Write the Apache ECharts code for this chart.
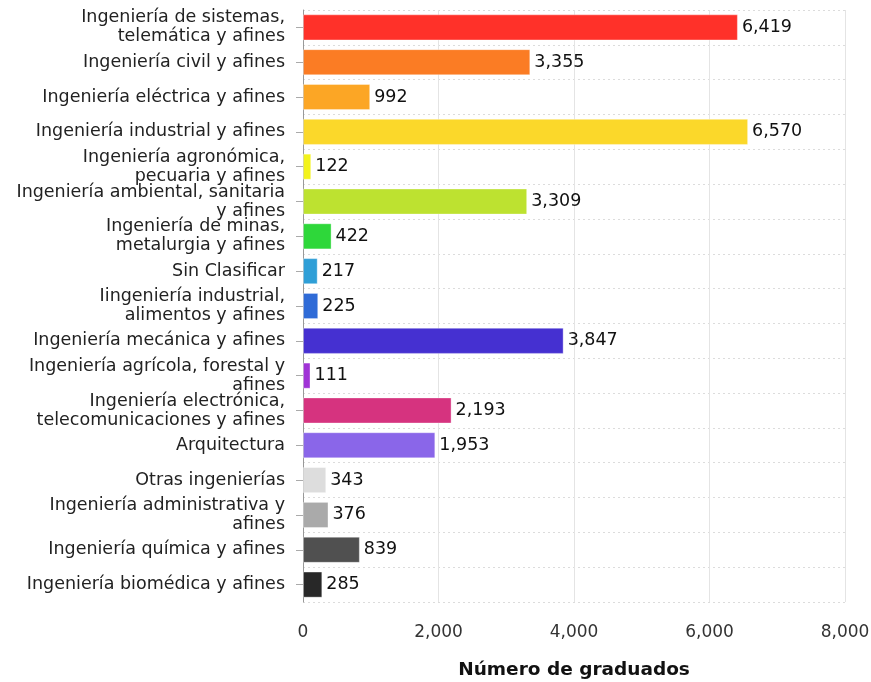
<!DOCTYPE html>
<html>
<head>
<meta charset="utf-8">
<script src="https://cdn.jsdelivr.net/npm/echarts@6/dist/echarts.min.js"></script>
<style>
html,body{margin:0;padding:0;background:#fff;}
#chart{width:871px;height:682px;}
</style>
</head>
<body>
<div id="chart"></div>
<script>
var categories = [
  "Ingeniería de sistemas,\ntelemática y afines",
  "Ingeniería civil y afines",
  "Ingeniería eléctrica y afines",
  "Ingeniería industrial y afines",
  "Ingeniería agronómica,\npecuaria y afines",
  "Ingeniería ambiental, sanitaria\ny afines",
  "Ingeniería de minas,\nmetalurgia y afines",
  "Sin Clasificar",
  "Iingeniería industrial,\nalimentos y afines",
  "Ingeniería mecánica y afines",
  "Ingeniería agrícola, forestal y\nafines",
  "Ingeniería electrónica,\ntelecomunicaciones y afines",
  "Arquitectura",
  "Otras ingenierías",
  "Ingeniería administrativa y\nafines",
  "Ingeniería química y afines",
  "Ingeniería biomédica y afines"
];
var values = [6419, 3355, 992, 6570, 122, 3309, 422, 217, 225, 3847, 111, 2193, 1953, 343, 376, 839, 285];
var colors = ["#ff3129", "#fb7c24", "#fca625", "#fbd82a", "#f3f31c", "#bde230", "#2ed73a", "#2f9fd7", "#2f6bd7", "#4530d1", "#a033d6", "#d6337f", "#8a66e9", "#dddddd", "#aaaaaa", "#505050", "#282828"];
var xAxisName = "Número de graduados";

var fmt = function (v) { return Number(v).toLocaleString('en-US'); };

var chart = echarts.init(document.getElementById('chart'), null, {renderer: 'canvas'});
chart.setOption({
  animation: false,
  textStyle: {fontFamily: 'DejaVu Sans'},
  grid: {left: 303, right: 26, top: 10, bottom: 80, containLabel: false, outerBoundsMode: 'none'},
  xAxis: {
    type: 'value',
    min: 0, max: 8000, interval: 2000,
    name: xAxisName,
    nameLocation: 'middle',
    nameGap: 59,
    nameTextStyle: {fontFamily: 'DejaVu Sans', fontSize: 18.5, fontWeight: 'bold', color: '#111'},
    axisLine: {show: false},
    axisTick: {show: false},
    axisLabel: {formatter: fmt, fontSize: 17, color: '#333', margin: 22, fontFamily: 'DejaVu Sans'},
    splitLine: {show: true, lineStyle: {color: '#e4e4e4', width: 1, type: 'solid'}}
  },
  yAxis: {
    type: 'category',
    inverse: true,
    data: categories,
    axisLine: {show: true, lineStyle: {color: '#999', width: 1}},
    axisTick: {show: true, alignWithLabel: true, length: 7, lineStyle: {color: '#aaa'}},
    axisLabel: {fontSize: 17.5, color: '#222', margin: 18, lineHeight: 19, align: 'right', fontFamily: 'DejaVu Sans'},
    splitLine: {show: true, lineStyle: {color: '#dcdcdc', type: [2, 3], width: 1}}
  },
  series: [{
    type: 'bar',
    data: values.map(function (v, i) {
      return {value: v, itemStyle: {color: colors[i], borderColor: 'rgba(255,255,255,0.35)', borderWidth: 1}};
    }),
    barCategoryGap: '25%',
    label: {
      show: true,
      position: 'right',
      distance: 4,
      formatter: function (p) { return fmt(p.value); },
      fontSize: 17.5,
      color: '#111',
      fontFamily: 'DejaVu Sans'
    }
  }]
});
</script>
</body>
</html>
